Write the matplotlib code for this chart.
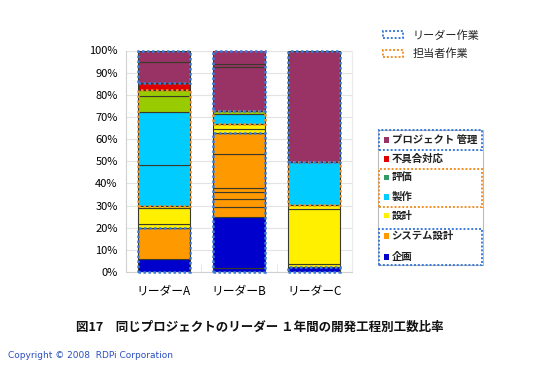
import matplotlib.pyplot as plt
from matplotlib.patches import Rectangle
import numpy as np

plt.rcParams['font.family'] = ['Noto Sans CJK JP', 'DejaVu Sans']

# bars and stacked work categories (bottom -> top)
bars = ['リーダーA', 'リーダーB', 'リーダーC']
categories = ['企画', 'システム設計', '設計', '製作', '評価', '不具合対応', 'プロジェクト 管理']

# segment heights (%) per bar, one list per category
kikaku = [[5.8], [1.7, 23.0], [2.1]]
sys_sekkei = [[13.9], [4.8, 3.3, 3.5, 1.7, 15.3, 9.3], []]
sekkei = [[1.8, 7.2, 1.1], [1.9, 2.5], [1.5, 24.7, 1.9]]
seisaku = [[18.4, 24.2], [4.2], [19.6]]
hyouka = [[7.1, 2.5], [1.4], []]
fuguai = [[3.5], [], []]
pm = [[9.5, 5.0], [20.1, 1.2, 6.1], [50.2]]

segments = [kikaku, sys_sekkei, sekkei, seisaku, hyouka, fuguai, pm]

bar_colors = ['#0000CC', '#FF9900', '#FFF000', '#00CCFF', '#99CC00', '#E00000', '#993366']
legend_colors = ['#0000CC', '#FF9900', '#FFF000', '#00CCFF', '#339966', '#E00000', '#993366']

# leader work / staff work groups
leader = ['企画', 'システム設計', 'プロジェクト 管理']
staff = ['製作', '評価']
blue_dot = '#3A7BDB'
orange_dot = '#F0902A'

W, H = 540, 369
fig = plt.figure(figsize=(W / 100, H / 100), dpi=100)
ax = fig.add_axes([126 / W, 1 - 272 / H, 226 / W, 221.5 / H])

def px(x, y):
    return x / W, 1 - y / H

x = np.arange(len(bars))
bw = 0.69

for i in range(len(bars)):
    bottom = 0
    spans = []
    for c, cat in enumerate(categories):
        start = bottom
        for h in segments[c][i]:
            ax.bar(x[i], h, bw, bottom=bottom, color=bar_colors[c],
                   edgecolor='#3a3a2a', linewidth=0.8, zorder=2)
            bottom += h
        if bottom > start:
            grp = 'L' if cat in leader else ('S' if cat in staff else None)
            spans.append([grp, start, bottom])
    # merge adjacent spans of same group and draw dotted boxes
    merged = []
    for s in spans:
        if merged and merged[-1][0] == s[0] and abs(merged[-1][2] - s[1]) < 1e-6:
            merged[-1][2] = s[2]
        else:
            merged.append(list(s))
    for grp, b, t in merged:
        if grp is None:
            continue
        col = blue_dot if grp == 'L' else orange_dot
        ax.add_patch(Rectangle((x[i] - bw / 2, b), bw, t - b, fill=False,
                               edgecolor=col, linewidth=1.8,
                               linestyle=(0, (1, 1)), zorder=4, clip_on=False))

ax.set_xlim(-0.5, len(bars) - 0.5)
ax.set_ylim(0, 100)
ax.set_yticks(np.arange(0, 101, 10))
ax.set_yticklabels([f'{v}%' for v in range(0, 101, 10)], fontsize=8)
ax.set_xticks(x)
ax.set_xticklabels(bars, fontsize=8.5)
ax.tick_params(length=0)
ax.tick_params(axis='y', pad=6)
ax.tick_params(axis='x', pad=9)
ax.set_xticks([0.5, 1.5], minor=True)
ax.tick_params(axis='x', which='minor', direction='in', length=6, color='#E3E3E3')
ax.yaxis.grid(True, color='#E3E3E3', linewidth=0.8, zorder=0)
ax.set_axisbelow(True)
ax.spines['top'].set_visible(False)
ax.spines['right'].set_color('#EBEBEB')
ax.spines['right'].set_linewidth(0.8)
for s in ['left', 'bottom']:
    ax.spines[s].set_color('#D0D0D0')
    ax.spines[s].set_linewidth(0.8)

# top legend: leader / staff work
for (y0, col, lab) in [(31, blue_dot, 'リーダー作業'), (49.5, orange_dot, '担当者作業')]:
    fx, fy = px(383, y0 + 7)
    fig.patches.append(Rectangle((fx, fy), 20 / W, 7 / H, transform=fig.transFigure,
                                 fill=False, edgecolor=col, linewidth=1.4,
                                 linestyle=(0, (1, 1))))
    tx, ty = px(413, y0 + 4.5)
    fig.text(tx, ty, lab, fontsize=8, va='center', ha='left', color='#222222')

# category legend
fx, fy = px(378, 265)
fig.patches.append(Rectangle((fx, fy), 105 / W, 135 / H, transform=fig.transFigure,
                             fill=False, edgecolor='#BBBBBB', linewidth=0.8))
leg_y = {'プロジェクト 管理': 140, '不具合対応': 159, '評価': 178, '製作': 197,
         '設計': 216, 'システム設計': 236, '企画': 257}
for c, cat in enumerate(categories):
    yy = leg_y[cat]
    sx, sy = px(383.5, yy + 2.5)
    fig.patches.append(Rectangle((sx, sy), 5.5 / W, 5.5 / H, transform=fig.transFigure,
                                 facecolor=legend_colors[c], edgecolor='none'))
    tx, ty = px(391.5, yy)
    fig.text(tx, ty, cat, fontsize=7.5, fontweight='bold', va='center', ha='left',
             color='#222222')

for (y1, y2, col) in [(130, 150, blue_dot), (169, 207, orange_dot), (229, 265, blue_dot)]:
    fx, fy = px(379, y2)
    fig.patches.append(Rectangle((fx, fy), 103 / W, (y2 - y1) / H, transform=fig.transFigure,
                                 fill=False, edgecolor=col, linewidth=1.4,
                                 linestyle=(0, (1, 1))))

tx, ty = px(260, 327)
fig.text(tx, ty, '図17　同じプロジェクトのリーダー １年間の開発工程別工数比率',
         fontsize=9, fontweight='bold', ha='center', va='center', color='#111111')
tx, ty = px(8, 356)
fig.text(tx, ty, 'Copyright © 2008  RDPi Corporation', fontsize=6.5,
         ha='left', va='center', color='#2A4FC0', family=['DejaVu Sans'])

fig.savefig('out.png', dpi=100)
